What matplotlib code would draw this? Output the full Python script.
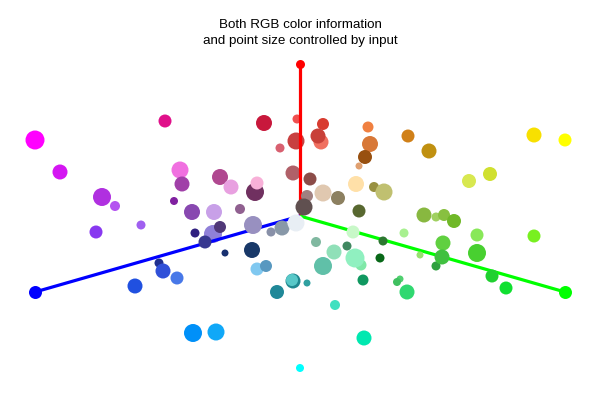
import matplotlib
matplotlib.use("Agg")
import matplotlib.pyplot as plt
import numpy as np

# Chart units: origin at the centre where the three colour axes meet, y up.
# Axis end points (R, G, B)
axis_names = ["R", "G", "B"]
axis_x = [0, 265, -265]
axis_y = [152, -76, -76]
axis_colors = ["#ff0000", "#00ff00", "#0000ff"]
axis_end_size = [9, 13, 13]

# Scatter points (drawn in list order)
pt_x = [-265, -240, -198, -185, -135, -36, -3, -4, -20, -120, -118, -80, -69, -45, -43, -7, -126,
        23, 21, 18, 68, 70, 108, 129, 65, 59, 10, 56, 74, 84, 23, 38, 7,
        234, 265, 190, 169,
        -204, -159, -165, -141, -137, -108, -86, -60, 4, -105, -87, -80, -95, -47, -75, -48, -29, -18, -4,
        -123, -43, -34, -7, -8, -23, 7,
        59, 124, 136, 53, 83, 104, 16, 34, 47, 61, 55, 80, 23, 63, 120, 136, 100, 97, 107,
        144, 154, 177, 234, 143, 177, 142, 192, 206,
        35, -107, -84, 64, 0]
pt_y = [76, 44, 19, 10, 95, 93, 97, 75, 68, 46, 32, 39, 29, 24, 33, 43, 15,
        92, 74, 80, 89, 72, 80, 65, 59, 50, 37, 32, 29, 24, 23, 18, 20,
        81, 76, 42, 35,
        -16, -9, -70, -47, -55, 4, 4, 7, 9, -17, -18, -11, -26, -9, -37, -34, -16, -12, -7,
        -62, -53, -50, -65, -64, -76, -67,
        5, 1, -1, -16, -25, -17, -26, -36, -30, -49, -42, -42, -50, -64, -39, -50, -63, -66, -76,
        1, -5, -19, -20, -27, -37, -41, -60, -72,
        -89, -117, -116, -122, -152]
pt_diam = [19, 15, 18, 10, 13, 16, 9, 17, 9, 17, 15, 16, 15, 18, 13, 15, 8,
           12, 15, 15, 11, 16, 13, 15, 14, 7, 13, 16, 10, 17, 17, 14, 12,
           15, 13, 14, 14,
           13, 9, 15, 9, 15, 16, 16, 10, 17, 9, 18, 12, 13, 18, 7, 16, 9, 15, 17,
           13, 13, 12, 15, 12, 14, 7,
           13, 15, 9, 13, 9, 9, 10, 15, 9, 11, 19, 9, 18, 11, 7, 9, 7, 8, 15,
           12, 14, 13, 13, 15, 18, 15, 13, 13,
           10, 18, 17, 15, 8]
pt_color = ["#ff00ff", "#d416f2", "#b030e0", "#b454f0", "#e0108a", "#c8183c", "#f05050", "#c84040",
            "#d86070", "#f070e0", "#a040a8", "#b04890", "#e8a0e0", "#703060", "#f8b0d8", "#b06068",
            "#8020a0",
            "#d83c30", "#f07060", "#c84038", "#f08040", "#d87838", "#d08018", "#c09010", "#985010",
            "#e0a070", "#8c4c48", "#ffe0a8", "#989040", "#c0c070", "#e0c8b0", "#8c8060", "#a08080",
            "#f8e000", "#ffff00", "#d0e030", "#d8e850",
            "#8838f0", "#a060f0", "#2050e0", "#203090", "#3050d8", "#8848b0", "#c8a0e8", "#906090",
            "#605050", "#302080", "#9080d8", "#503878", "#383890", "#9890c0", "#183070", "#183868",
            "#8890a8", "#8898a8", "#e8eef4",
            "#4878e8", "#80c8f0", "#5898c0", "#208890", "#58c8c8", "#208898", "#30a0a0",
            "#586830", "#88b840", "#a0d060", "#c8f8c8", "#2c7830", "#a8f090", "#80b8a0", "#90e0b8",
            "#408860", "#80e8a8", "#90f0c0", "#086818", "#60c0a8", "#109860", "#98e070", "#30a040",
            "#50d070", "#40c060", "#30d870",
            "#88c040", "#70b828", "#88e858", "#78f020", "#60d040", "#48d030", "#40c040", "#20d030",
            "#10e030",
            "#40e0c0", "#0090f8", "#10a8f8", "#00e8b0", "#00ffff"]
# 1 = drawn behind the axis lines
pt_behind = [0, 0, 0, 0, 0, 0, 1, 1, 0, 0, 0, 0, 0, 0, 0, 1, 0,
             0, 0, 0, 0, 0, 0, 0, 0, 0, 0, 0, 0, 0, 0, 0, 0,
             0, 0, 0, 0,
             0, 0, 0, 0, 0, 0, 0, 0, 0, 0, 1, 0, 0, 0, 0, 0, 0, 0, 0,
             0, 0, 0, 0, 0, 0, 0,
             0, 0, 0, 0, 0, 0, 0, 0, 0, 0, 0, 0, 0, 0, 0, 0, 0, 0, 0,
             0, 0, 0, 0, 0, 0, 0, 0, 0,
             0, 0, 0, 0, 0]

title = "Both RGB color information\nand point size controlled by input"

fig = plt.figure(figsize=(6, 4), dpi=100)
ax = fig.add_axes([0, 0, 1, 1])
ax.set_xlim(-300, 300)
ax.set_ylim(-184, 216)
ax.axis("off")

px_to_pt = 72 / 100.0
x = np.array(pt_x, float)
y = np.array(pt_y, float)
s = (np.array(pt_diam, float) * px_to_pt) ** 2
beh = np.array(pt_behind, bool)
cols = np.array(pt_color)

ax.scatter(x[beh], y[beh], s=s[beh], c=list(cols[beh]), linewidths=0, zorder=1)

for ex, ey, c, d in zip(axis_x, axis_y, axis_colors, axis_end_size):
    ax.plot([0, ex], [0, ey], color=c, lw=2.3, solid_capstyle="butt", zorder=2)
    ax.scatter([ex], [ey], s=(d * px_to_pt) ** 2, c=c, linewidths=0, zorder=2)

ax.scatter(x[~beh], y[~beh], s=s[~beh], c=list(cols[~beh]), linewidths=0, zorder=3)

fig.text(0.5, 1 - 33 / 400, title, ha="center", va="center", fontsize=9.6,
         family="Liberation Sans", linespacing=1.42)

fig.savefig("out.png", dpi=100)
